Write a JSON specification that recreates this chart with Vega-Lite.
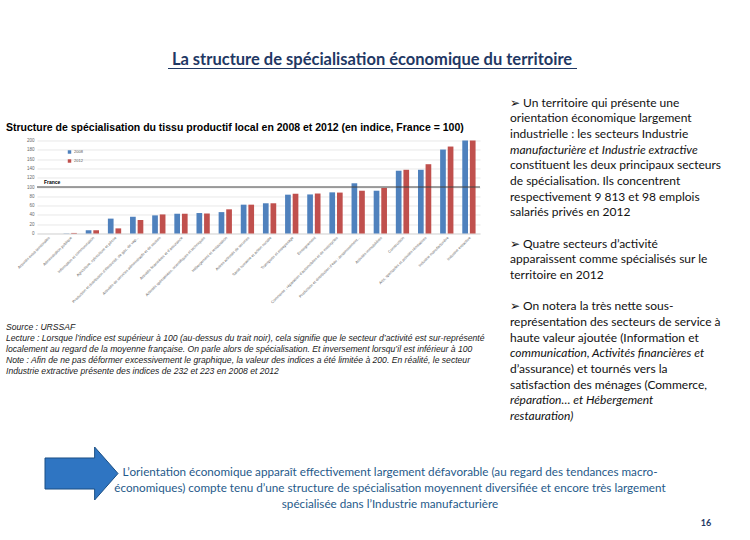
{
  "$schema": "https://vega.github.io/schema/vega-lite/v6.json",
  "padding": 0,
  "background": "white",
  "spacing": 0,
  "config": {"view": {"stroke": null}, "font": "Lato"},
  "resolve": {"scale": {"color": "independent"}, "legend": {"color": "independent"}},
  "datasets": {
    "barres": [
      {"secteur": "Activités extra-territoriales", "annee": "2008", "indice": 0},
      {"secteur": "Activités extra-territoriales", "annee": "2012", "indice": 0},
      {"secteur": "Administration publique", "annee": "2008", "indice": 0.4},
      {"secteur": "Administration publique", "annee": "2012", "indice": 1.2},
      {"secteur": "Information et communication", "annee": "2008", "indice": 7},
      {"secteur": "Information et communication", "annee": "2012", "indice": 7},
      {"secteur": "Agriculture, sylviculture et pêche", "annee": "2008", "indice": 32},
      {"secteur": "Agriculture, sylviculture et pêche", "annee": "2012", "indice": 11},
      {"secteur": "Production et distribution d’électricité, de gaz, de vap...", "annee": "2008", "indice": 36},
      {"secteur": "Production et distribution d’électricité, de gaz, de vap...", "annee": "2012", "indice": 29},
      {"secteur": "Activités de services administratifs et de soutien", "annee": "2008", "indice": 39},
      {"secteur": "Activités de services administratifs et de soutien", "annee": "2012", "indice": 41},
      {"secteur": "Activités financières et d’assurance", "annee": "2008", "indice": 42.5},
      {"secteur": "Activités financières et d’assurance", "annee": "2012", "indice": 42.5},
      {"secteur": "Activités spécialisées, scientifiques et techniques", "annee": "2008", "indice": 44},
      {"secteur": "Activités spécialisées, scientifiques et techniques", "annee": "2012", "indice": 43},
      {"secteur": "Hébergement et restauration", "annee": "2008", "indice": 46},
      {"secteur": "Hébergement et restauration", "annee": "2012", "indice": 52},
      {"secteur": "Autres activités de services", "annee": "2008", "indice": 62},
      {"secteur": "Autres activités de services", "annee": "2012", "indice": 62},
      {"secteur": "Santé humaine et action sociale", "annee": "2008", "indice": 65},
      {"secteur": "Santé humaine et action sociale", "annee": "2012", "indice": 65},
      {"secteur": "Transports et entreposage", "annee": "2008", "indice": 83.5},
      {"secteur": "Transports et entreposage", "annee": "2012", "indice": 85.5},
      {"secteur": "Enseignement", "annee": "2008", "indice": 84},
      {"secteur": "Enseignement", "annee": "2012", "indice": 86},
      {"secteur": "Commerce ; réparation d’automobiles et de motocycles", "annee": "2008", "indice": 88.5},
      {"secteur": "Commerce ; réparation d’automobiles et de motocycles", "annee": "2012", "indice": 88},
      {"secteur": "Production et distribution d’eau ; assainissement...", "annee": "2008", "indice": 108},
      {"secteur": "Production et distribution d’eau ; assainissement...", "annee": "2012", "indice": 92},
      {"secteur": "Activités immobilières", "annee": "2008", "indice": 92},
      {"secteur": "Activités immobilières", "annee": "2012", "indice": 98},
      {"secteur": "Construction", "annee": "2008", "indice": 135},
      {"secteur": "Construction", "annee": "2012", "indice": 137},
      {"secteur": "Arts, spectacles et activités récréatives", "annee": "2008", "indice": 137},
      {"secteur": "Arts, spectacles et activités récréatives", "annee": "2012", "indice": 149},
      {"secteur": "Industrie manufacturière", "annee": "2008", "indice": 180.5},
      {"secteur": "Industrie manufacturière", "annee": "2012", "indice": 187},
      {"secteur": "Industrie extractive", "annee": "2008", "indice": 200},
      {"secteur": "Industrie extractive", "annee": "2012", "indice": 200}
    ],
    "droite": [
      {"ligne": 1, "texte": "➢  Un territoire qui présente une", "style": "normal"},
      {"ligne": 2, "texte": "orientation économique largement", "style": "normal"},
      {"ligne": 3, "texte": "industrielle : les secteurs Industrie", "style": "normal"},
      {"ligne": 4, "texte": "manufacturière et Industrie extractive", "style": "italic"},
      {"ligne": 5, "texte": "constituent les deux principaux secteurs", "style": "normal"},
      {"ligne": 6, "texte": "de spécialisation. Ils concentrent", "style": "normal"},
      {"ligne": 7, "texte": "respectivement 9 813 et 98 emplois", "style": "normal"},
      {"ligne": 8, "texte": "salariés privés en 2012", "style": "normal"},
      {"ligne": 10, "texte": "➢  Quatre secteurs d’activité", "style": "normal"},
      {"ligne": 11, "texte": "apparaissent comme spécialisés sur le", "style": "normal"},
      {"ligne": 12, "texte": "territoire en 2012", "style": "normal"},
      {"ligne": 14, "texte": "➢  On notera la très nette sous-", "style": "normal"},
      {"ligne": 15, "texte": "représentation des secteurs de service à", "style": "normal"},
      {"ligne": 16, "texte": "haute valeur ajoutée (Information et", "style": "normal"},
      {"ligne": 17, "texte": "communication, Activités financières et", "style": "italic"},
      {"ligne": 18, "texte": "d’assurance) et tournés vers la", "style": "normal"},
      {"ligne": 19, "texte": "satisfaction des ménages (Commerce,", "style": "normal"},
      {"ligne": 20, "texte": "réparation… et Hébergement", "style": "italic"},
      {"ligne": 21, "texte": "restauration)", "style": "italic"}
    ],
    "notes": [
      {"ligne": 1, "texte": "Source : URSSAF"},
      {"ligne": 2, "texte": "Lecture : Lorsque l’indice est supérieur à 100 (au-dessus du trait noir), cela signifie que le secteur d’activité est sur-représenté"},
      {"ligne": 3, "texte": "localement au regard de la moyenne française. On parle alors de spécialisation. Et inversement lorsqu’il est inférieur à 100"},
      {"ligne": 4, "texte": "Note : Afin de ne pas déformer excessivement le graphique, la valeur des indices a été limitée à 200. En réalité, le secteur"},
      {"ligne": 5, "texte": "Industrie extractive présente des indices de 232 et 223 en 2008 et 2012"}
    ],
    "bas": [
      {"ligne": 1, "texte": "L’orientation économique apparaît effectivement largement défavorable (au regard des tendances macro-"},
      {"ligne": 2, "texte": "économiques) compte tenu d’une structure de spécialisation moyennent diversifiée et encore très largement"},
      {"ligne": 3, "texte": "spécialisée dans l’Industrie manufacturière"}
    ]
  },
  "vconcat": [
    {
      "width": 713,
      "height": 95,
      "data": {"values": [{"titre": "La structure de spécialisation économique du territoire"}]},
      "layer": [
        {
          "mark": {"type": "text", "font": "Lato", "fontSize": 16.5, "fontWeight": "bold", "color": "#1f3864", "align": "center", "baseline": "middle"},
          "encoding": {"text": {"field": "titre"}, "x": {"value": 335}, "y": {"value": 60}}
        },
        {
          "mark": {"type": "rule", "color": "#1f3864", "strokeWidth": 1},
          "encoding": {"x": {"value": 131}, "x2": {"value": 540}, "y": {"value": 68.5}}
        }
      ]
    },
    {
      "spacing": 20,
      "resolve": {"scale": {"color": "independent"}, "legend": {"color": "independent"}},
      "hconcat": [
        {
          "spacing": 7.5,
          "resolve": {"scale": {"color": "independent"}, "legend": {"color": "independent"}},
          "vconcat": [
            {
              "width": 453,
              "height": 20,
              "data": {"values": [{}]},
              "mark": {"type": "text"},
              "encoding": {"text": {"value": ""}}
            },
            {
              "width": 443,
              "height": 93,
              "title": {
                "text": "Structure de spécialisation du tissu productif local en 2008 et 2012 (en indice, France = 100)",
                "anchor": "start", "frame": "bounds", "dx": 6, "offset": 4,
                "font": "Liberation Sans", "fontSize": 10.5, "fontWeight": "bold", "color": "#000000"
              },
              "layer": [
                {
                  "data": {"name": "barres"},
                  "mark": {"type": "bar"},
                  "encoding": {
                    "x": {
                      "field": "secteur", "type": "nominal", "sort": null,
                      "scale": {"paddingInner": 0.4, "paddingOuter": 0.2},
                      "axis": {
                        "title": null, "labelAngle": -45, "labelFont": "Liberation Sans", "labelFontSize": 3.8,
                        "labelColor": "#666666", "ticks": false, "domainColor": "#d9d9d9", "labelPadding": 2,
                        "labelLimit": 105, "minExtent": 80, "labelOverlap": false
                      }
                    },
                    "xOffset": {"field": "annee", "type": "nominal", "scale": {"paddingInner": 0.25}},
                    "y": {
                      "field": "indice", "type": "quantitative",
                      "scale": {"domain": [0, 200]},
                      "axis": {
                        "title": null, "values": [0, 20, 40, 60, 80, 100, 120, 140, 160, 180, 200],
                        "labelFont": "Liberation Sans", "labelFontSize": 4.5, "labelColor": "#666666",
                        "ticks": false, "domain": false, "gridColor": "#d9d9d9", "gridWidth": 0.6,
                        "labelPadding": 3, "minExtent": 37, "labelOverlap": false
                      }
                    },
                    "color": {
                      "field": "annee", "type": "nominal",
                      "scale": {"domain": ["2008", "2012"], "range": ["#4f81bd", "#c0504d"]},
                      "legend": {
                        "title": null, "orient": "none", "legendX": 30, "legendY": 9,
                        "labelFont": "Liberation Sans", "labelFontSize": 4, "labelColor": "#555555",
                        "symbolType": "square", "symbolSize": 12, "rowPadding": 4, "labelOffset": 2
                      }
                    }
                  }
                },
                {
                  "data": {"values": [{}]},
                  "mark": {"type": "rule", "color": "#404040", "strokeWidth": 1},
                  "encoding": {
                    "y": {
                      "datum": 100, "type": "quantitative",
                      "axis": {
                        "title": null, "values": [0, 20, 40, 60, 80, 100, 120, 140, 160, 180, 200],
                        "labelFont": "Liberation Sans", "labelFontSize": 4.5, "labelColor": "#666666",
                        "ticks": false, "domain": false, "gridColor": "#d9d9d9", "gridWidth": 0.6,
                        "labelPadding": 3, "minExtent": 37, "labelOverlap": false
                      }
                    }
                  }
                },
                {
                  "data": {"values": [{"etiquette": "France"}]},
                  "mark": {"type": "text", "font": "Liberation Sans", "fontSize": 5, "fontWeight": "bold", "color": "#000000", "align": "left", "baseline": "alphabetic", "dy": -3},
                  "encoding": {
                    "text": {"field": "etiquette"},
                    "x": {"value": 7},
                    "y": {
                      "datum": 100, "type": "quantitative",
                      "axis": {
                        "title": null, "values": [0, 20, 40, 60, 80, 100, 120, 140, 160, 180, 200],
                        "labelFont": "Liberation Sans", "labelFontSize": 4.5, "labelColor": "#666666",
                        "ticks": false, "domain": false, "gridColor": "#d9d9d9", "gridWidth": 0.6,
                        "labelPadding": 3, "minExtent": 37, "labelOverlap": false
                      }
                    }
                  }
                }
              ]
            },
            {
              "width": 453,
              "height": 55,
              "data": {"name": "notes"},
              "mark": {"type": "text", "font": "Liberation Sans", "fontSize": 8.6, "fontStyle": "italic", "align": "left", "baseline": "middle", "color": "#1a1a1a"},
              "encoding": {
                "text": {"field": "texte"},
                "x": {"value": -31},
                "y": {"field": "ligne", "type": "quantitative", "scale": {"domain": [1, 5], "range": [5.5, 49.5]}, "axis": null}
              }
            }
          ]
        },
        {
          "width": 230,
          "height": 329,
          "data": {"name": "droite"},
          "layer": [
            {
              "transform": [{"filter": "datum.style === 'normal'"}],
              "mark": {"type": "text", "font": "Lato", "fontSize": 12, "align": "left", "baseline": "middle", "color": "#111111"},
              "encoding": {
                "text": {"field": "texte"},
                "x": {"value": 0},
                "y": {"field": "ligne", "type": "quantitative", "scale": {"domain": [1, 21], "range": [7.8, 320.8]}, "axis": null}
              }
            },
            {
              "transform": [{"filter": "datum.style === 'italic'"}],
              "mark": {"type": "text", "font": "Lato", "fontSize": 12, "fontStyle": "italic", "align": "left", "baseline": "middle", "color": "#111111"},
              "encoding": {
                "text": {"field": "texte"},
                "x": {"value": 0},
                "y": {"field": "ligne", "type": "quantitative", "scale": {"domain": [1, 21], "range": [7.8, 320.8]}, "axis": null}
              }
            }
          ]
        }
      ]
    },
    {
      "width": 713,
      "height": 116,
      "layer": [
        {
          "data": {"values": [{}]},
          "mark": {
            "type": "point",
            "shape": "M-1,-0.425L0.36,-0.425L0.36,-0.726L1,0L0.36,0.726L0.36,0.425L-1,0.425Z",
            "size": 5329, "filled": true, "fill": "#2f75c2", "stroke": "#1b4f84", "strokeWidth": 1, "opacity": 1
          },
          "encoding": {"x": {"value": 44.5}, "y": {"value": 49.5}}
        },
        {
          "data": {"name": "bas"},
          "mark": {"type": "text", "font": "Lato", "fontSize": 11.7, "align": "center", "baseline": "middle", "color": "#1f5a8a"},
          "encoding": {
            "text": {"field": "texte"},
            "x": {"value": 353},
            "y": {"field": "ligne", "type": "quantitative", "scale": {"domain": [1, 3], "range": [47.5, 79.5]}, "axis": null}
          }
        },
        {
          "data": {"values": [{"page": "16"}]},
          "mark": {"type": "text", "font": "Lato", "fontSize": 9, "fontWeight": "bold", "color": "#1f3864", "align": "center", "baseline": "middle"},
          "encoding": {"text": {"field": "page"}, "x": {"value": 669}, "y": {"value": 99}}
        }
      ]
    }
  ]
}
